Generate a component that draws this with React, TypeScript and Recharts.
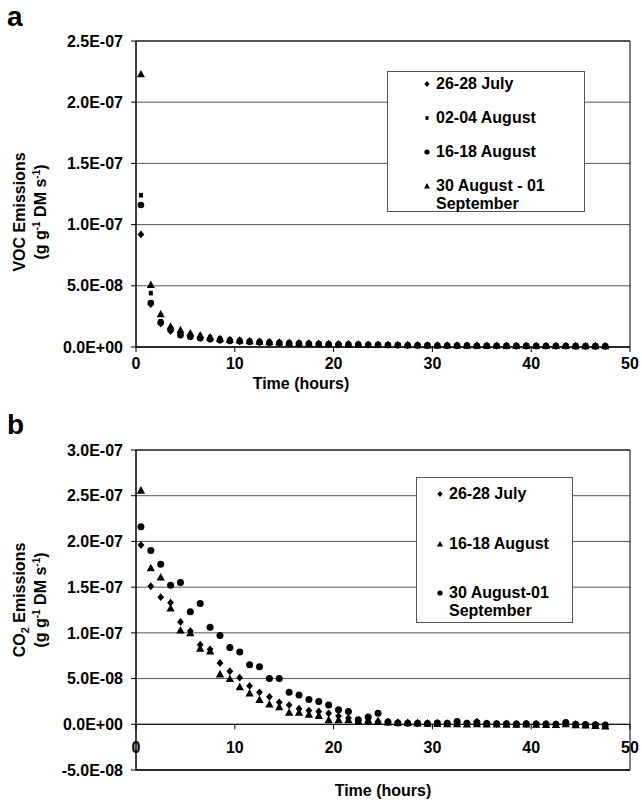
import React from 'react';
import {
  ScatterChart,
  Scatter,
  XAxis,
  YAxis,
  CartesianGrid,
  ReferenceLine,
  ReferenceArea,
  Legend,
} from 'recharts';

const FONT = '"Liberation Sans", Arial, Helvetica, sans-serif';

// sampling times (hours)
const hours = [
  0.5, 1.5, 2.5, 3.5, 4.5, 5.5, 6.5, 7.5, 8.5, 9.5, 10.5, 11.5, 12.5, 13.5, 14.5, 15.5,
  16.5, 17.5, 18.5, 19.5, 20.5, 21.5, 22.5, 23.5, 24.5, 25.5, 26.5, 27.5, 28.5, 29.5, 30.5, 31.5,
  32.5, 33.5, 34.5, 35.5, 36.5, 37.5, 38.5, 39.5, 40.5, 41.5, 42.5, 43.5, 44.5, 45.5, 46.5, 47.5,
];

// Panel a: VOC emissions (g g-1 DM s-1)
const vocJuly = [
  92e-9, 35e-9, 19e-9, 13e-9, 10e-9, 8.5e-9, 7.5e-9, 6.5e-9, 5.8e-9, 5.2e-9, 4.8e-9, 4.3e-9,
  4.0e-9, 3.7e-9, 3.5e-9, 3.2e-9, 3.0e-9, 2.8e-9, 2.6e-9, 2.5e-9, 2.3e-9, 2.2e-9, 2.0e-9, 1.9e-9,
  1.8e-9, 1.7e-9, 1.6e-9, 1.5e-9, 1.4e-9, 1.3e-9, 1.3e-9, 1.2e-9, 1.2e-9, 1.1e-9, 1.1e-9, 1.0e-9,
  1.0e-9, 1.0e-9, 0.9e-9, 0.9e-9, 0.9e-9, 0.8e-9, 0.8e-9, 0.8e-9, 0.8e-9, 0.7e-9, 0.7e-9, 0.7e-9,
];
const vocAug02 = [
  124e-9, 44e-9, 21e-9, 15e-9, 12e-9, 10e-9, 9e-9, 8e-9, 7e-9, 6.3e-9, 5.8e-9, 5.2e-9,
  4.8e-9, 4.4e-9, 4.0e-9, 3.7e-9, 3.4e-9, 3.2e-9, 3.0e-9, 2.8e-9, 2.6e-9, 2.4e-9, 2.3e-9, 2.2e-9,
  2.0e-9, 1.9e-9, 1.8e-9, 1.7e-9, 1.6e-9, 1.5e-9, 1.5e-9, 1.4e-9, 1.4e-9, 1.3e-9, 1.3e-9, 1.2e-9,
  1.2e-9, 1.1e-9, 1.1e-9, 1.1e-9, 1.0e-9, 1.0e-9, 1.0e-9, 0.9e-9, 0.9e-9, 0.9e-9, 0.9e-9, 0.8e-9,
];
const vocAug16 = [
  116e-9, 36e-9, 20e-9, 14e-9, 9.7e-9, 8.4e-9, 7.2e-9, 6.3e-9, 5.6e-9, 5.0e-9, 4.6e-9, 4.2e-9,
  3.8e-9, 3.5e-9, 3.2e-9, 3.0e-9, 2.8e-9, 2.6e-9, 2.4e-9, 2.3e-9, 2.1e-9, 2.0e-9, 1.9e-9, 1.8e-9,
  1.7e-9, 1.6e-9, 1.5e-9, 1.4e-9, 1.3e-9, 1.3e-9, 1.2e-9, 1.2e-9, 1.1e-9, 1.1e-9, 1.0e-9, 1.0e-9,
  1.0e-9, 0.9e-9, 0.9e-9, 0.9e-9, 0.8e-9, 0.8e-9, 0.8e-9, 0.8e-9, 0.7e-9, 0.7e-9, 0.7e-9, 0.7e-9,
];
const vocAug30 = [
  223e-9, 51e-9, 27e-9, 17e-9, 14e-9, 11.5e-9, 9.7e-9, 8.2e-9, 7.0e-9, 6.2e-9, 5.6e-9, 5.0e-9,
  4.6e-9, 4.2e-9, 3.9e-9, 3.6e-9, 3.3e-9, 3.1e-9, 2.9e-9, 2.7e-9, 2.5e-9, 2.4e-9, 2.2e-9, 2.1e-9,
  2.0e-9, 1.9e-9, 1.8e-9, 1.7e-9, 1.6e-9, 1.5e-9, 1.5e-9, 1.4e-9, 1.4e-9, 1.3e-9, 1.3e-9, 1.2e-9,
  1.2e-9, 1.1e-9, 1.1e-9, 1.1e-9, 1.0e-9, 1.0e-9, 1.0e-9, 1.0e-9, 0.9e-9, 0.9e-9, 0.9e-9, 0.9e-9,
];

// Panel b: CO2 emissions (g g-1 DM s-1)
const co2July = [
  196e-9, 151e-9, 139e-9, 133e-9, 112e-9, 102e-9, 87e-9, 82e-9, 67e-9, 58e-9, 51e-9, 42e-9,
  35e-9, 30e-9, 24e-9, 21e-9, 17e-9, 15e-9, 14e-9, 12e-9, 9e-9, 7e-9, 4e-9, 3e-9,
  3e-9, 2.5e-9, 2e-9, 1.8e-9, 1.5e-9, 1.2e-9, 1e-9, 1e-9, 2e-9, 1e-9, 3e-9, 1e-9,
  0.5e-9, 0.8e-9, 0.5e-9, 0.3e-9, 0.5e-9, 0.2e-9, 0, 1e-9, 0, -0.5e-9, -0.8e-9, -1e-9,
];
const co2Aug16 = [
  256e-9, 171e-9, 161e-9, 127e-9, 103e-9, 100e-9, 83e-9, 80e-9, 55e-9, 50e-9, 41e-9, 34e-9,
  27e-9, 22e-9, 19e-9, 13e-9, 13e-9, 11e-9, 9.6e-9, 5e-9, 5e-9, 5e-9, 3.6e-9, 4.4e-9,
  3.6e-9, 2.5e-9, 1.8e-9, 1.8e-9, 1.2e-9, 1.0e-9, 0.8e-9, 0.5e-9, 0.5e-9, 0.3e-9, 0.4e-9, 0.2e-9,
  0.2e-9, 0, 0, 0.3e-9, 0, -0.2e-9, -0.3e-9, 0.5e-9, -0.5e-9, -0.8e-9, -1.5e-9, -2e-9,
];
const co2Aug30 = [
  216e-9, 190e-9, 175e-9, 152e-9, 155e-9, 123e-9, 132e-9, 106e-9, 97e-9, 84e-9, 79e-9, 65e-9,
  63e-9, 50e-9, 50e-9, 35e-9, 32e-9, 27e-9, 25e-9, 21e-9, 16e-9, 14e-9, 5e-9, 8e-9,
  12e-9, 2.5e-9, 1.5e-9, 1.2e-9, 1.0e-9, 0.8e-9, 1.5e-9, 1.0e-9, 3e-9, 1.0e-9, 2e-9, 0.8e-9,
  0.5e-9, 0.5e-9, 0.3e-9, 0.5e-9, 0.2e-9, 0.3e-9, 0.1e-9, 2e-9, 0, -0.3e-9, -0.5e-9, -0.8e-9,
];

const vocNames = ['26-28 July', '02-04 August', '16-18 August', '30 August - 01 September'];
const co2Names = ['26-28 July', '16-18 August', '30 August-01 September'];

const xTicks = [0, 10, 20, 30, 40, 50];
const vocYTicks = [0, 5e-8, 1e-7, 1.5e-7, 2e-7, 2.5e-7];
const co2YTicks = [-5e-8, 0, 5e-8, 1e-7, 1.5e-7, 2e-7, 2.5e-7, 3e-7];

type Kind = 'diamond' | 'square' | 'circle' | 'triangle';

const toPoints = (vals: number[]) => hours.map((t, i) => ({ t, v: vals[i] }));

function fmtSci(v: number): string {
  if (Math.abs(v) < 1e-20) return '0.0E+00';
  const [m, e] = v.toExponential(1).split('e');
  const ei = parseInt(e, 10);
  const a = Math.abs(ei);
  return `${m}E${ei < 0 ? '-' : '+'}${a < 10 ? '0' + a : a}`;
}

const Mark = ({ cx, cy, kind, s }: { cx: number; cy: number; kind: Kind; s: number }) => {
  if (cx == null || cy == null || isNaN(cx) || isNaN(cy)) return null;
  if (kind === 'circle') return <circle cx={cx} cy={cy} r={s} fill="#000" />;
  if (kind === 'square')
    return <rect x={cx - s * 0.65} y={cy - s * 0.75} width={s * 1.3} height={s * 1.5} fill="#000" />;
  if (kind === 'diamond')
    return (
      <path
        d={`M${cx},${cy - s * 1.15}L${cx + s},${cy}L${cx},${cy + s * 1.15}L${cx - s},${cy}Z`}
        fill="#000"
      />
    );
  return (
    <path
      d={`M${cx},${cy - s * 1.15}L${cx + s * 1.15},${cy + s * 0.95}L${cx - s * 1.15},${cy + s * 0.95}Z`}
      fill="#000"
    />
  );
};

const shapeOf = (kind: Kind, s: number) => (p: any) => <Mark cx={p.cx} cy={p.cy} kind={kind} s={s} />;

const tickStyle = { fill: '#000', fontSize: 16, fontWeight: 700, fontFamily: FONT };

const LegendBox = ({
  names,
  kinds,
  width,
  height,
  padTop,
  stride,
  markX,
  textX,
}: {
  names: string[];
  kinds: Kind[];
  width: number;
  height: number;
  padTop: number;
  stride: number;
  markX: number;
  textX: number;
}) => (
  <div
    style={{
      boxSizing: 'border-box',
      width,
      height,
      border: '1px solid #555',
      background: '#fff',
      paddingTop: padTop,
      fontFamily: FONT,
      fontWeight: 700,
      fontSize: 16,
      lineHeight: '18px',
      color: '#000',
      textAlign: 'left',
    }}
  >
    {names.map((n, i) => (
      <div
        key={n}
        style={{
          position: 'relative',
          paddingLeft: textX,
          paddingRight: 4,
          marginBottom: i < names.length - 1 ? stride - 18 : 0,
        }}
      >
        <svg style={{ position: 'absolute', left: markX - 5, top: 4 }} width={10} height={10}>
          <Mark cx={5} cy={5} kind={kinds[i]} s={kinds[i] === 'square' ? 2.4 : 2.6} />
        </svg>
        {n}
      </div>
    ))}
  </div>
);

const YTitle = ({ first, centerY }: any) => {
  const x1 = 25;
  const x2 = 46;
  const cy = centerY;
  return (
    <g fontFamily={FONT} fontWeight={700} fontSize={16} fill="#000">
      <text x={x1} y={cy} textAnchor="middle" transform={`rotate(-90, ${x1}, ${cy})`}>
        {first}
      </text>
      <text x={x2} y={cy} textAnchor="middle" transform={`rotate(-90, ${x2}, ${cy})`}>
        (g g<tspan dy={-6} fontSize={10}>-1</tspan>
        <tspan dy={6}> DM s</tspan>
        <tspan dy={-6} fontSize={10}>-1</tspan>
        <tspan dy={6}>)</tspan>
      </text>
    </g>
  );
};

const CO2Text = () => (
  <>
    CO<tspan dy={4} fontSize={11}>2</tspan>
    <tspan dy={-4}> Emissions</tspan>
  </>
);

const XTitle = ({ cx, y }: { cx: number; y: number }) => (
  <text x={cx} y={y} textAnchor="middle" fontFamily={FONT} fontWeight={700} fontSize={16} fill="#000">
    Time (hours)
  </text>
);

// Panel b plot geometry (for placing tick labels on the zero line)
const B_TOP = 50;
const B_PLOT_H = 320;
const B_MIN = -5e-8;
const B_MAX = 3e-7;

const ZeroLineTick = (props: any) => {
  const { x, payload } = props;
  const bottom = B_TOP + B_PLOT_H;
  const zeroY = bottom - (B_PLOT_H * (0 - B_MIN)) / (B_MAX - B_MIN);
  return (
    <g>
      <line x1={x} x2={x} y1={zeroY} y2={zeroY + 5} stroke="#000" />
      <text x={x} y={zeroY + 23} dy="0.35em" textAnchor="middle" {...tickStyle}>
        {payload.value}
      </text>
    </g>
  );
};

export default function App() {
  return (
    <div
      style={{
        position: 'absolute',
        left: 0,
        top: 0,
        width: 642,
        height: 804,
        background: '#fff',
        fontFamily: FONT,
      }}
    >
      <div style={{ position: 'absolute', left: 7, top: 1, fontSize: 28, fontWeight: 700, lineHeight: '32px' }}>a</div>
      <div style={{ position: 'absolute', left: 7, top: 409, fontSize: 28, fontWeight: 700, lineHeight: '32px' }}>b</div>

      <div style={{ position: 'absolute', left: 0, top: 0 }}>
        <ScatterChart width={642} height={400} margin={{ top: 41, right: 12, bottom: 0, left: 0 }}>
          <CartesianGrid vertical={false} stroke="#555" />
          <XAxis
            type="number"
            dataKey="t"
            domain={[0, 50]}
            ticks={xTicks}
            height={53}
            tick={tickStyle}
            tickSize={5}
            tickMargin={6}
            axisLine={{ stroke: '#000' }}
            tickLine={{ stroke: '#000' }}
            label={{ content: () => <XTitle cx={301} y={389} /> }}
          />
          <YAxis
            type="number"
            dataKey="v"
            domain={[0, 2.5e-7]}
            ticks={vocYTicks}
            width={136}
            tick={tickStyle}
            tickFormatter={fmtSci}
            tickSize={5}
            tickMargin={8}
            axisLine={{ stroke: '#000' }}
            tickLine={{ stroke: '#000' }}
            label={{ content: (p: any) => <YTitle {...p} first="VOC Emissions" centerY={212} /> }}
          />
          <ReferenceArea x1={0} x2={50} y1={0} y2={2.5e-7} fill="none" stroke="#000" />
          <Scatter name={vocNames[0]} data={toPoints(vocJuly)} shape={shapeOf('diamond', 3.3)} isAnimationActive={false} />
          <Scatter name={vocNames[1]} data={toPoints(vocAug02)} shape={shapeOf('square', 3.1)} isAnimationActive={false} />
          <Scatter name={vocNames[2]} data={toPoints(vocAug16)} shape={shapeOf('circle', 3.3)} isAnimationActive={false} />
          <Scatter name={vocNames[3]} data={toPoints(vocAug30)} shape={shapeOf('triangle', 3.5)} isAnimationActive={false} />
          <Legend
            layout="horizontal"
            verticalAlign="middle"
            align="center"
            wrapperStyle={{ left: 387, top: 71, width: 198, height: 141 }}
            content={() => (
              <LegendBox
                names={vocNames}
                kinds={['diamond', 'square', 'circle', 'triangle']}
                width={198}
                height={141}
                padTop={3}
                stride={34}
                markX={39}
                textX={48}
              />
            )}
          />
        </ScatterChart>
      </div>

      <div style={{ position: 'absolute', left: 0, top: 400 }}>
        <ScatterChart width={642} height={404} margin={{ top: B_TOP, right: 12, bottom: 0, left: 0 }}>
          <CartesianGrid vertical={false} stroke="#555" />
          <XAxis
            type="number"
            dataKey="t"
            domain={[0, 50]}
            ticks={xTicks}
            height={34}
            tick={<ZeroLineTick />}
            tickSize={0}
            tickMargin={0}
            axisLine={{ stroke: '#000' }}
            tickLine={false}
            label={{ content: () => <XTitle cx={383} y={396} /> }}
          />
          <YAxis
            type="number"
            dataKey="v"
            domain={[B_MIN, B_MAX]}
            ticks={co2YTicks}
            width={136}
            tick={tickStyle}
            tickFormatter={fmtSci}
            tickSize={5}
            tickMargin={8}
            axisLine={{ stroke: '#000' }}
            tickLine={{ stroke: '#000' }}
            label={{ content: (p: any) => <YTitle {...p} first={<CO2Text />} centerY={200} /> }}
          />
          <ReferenceArea x1={0} x2={50} y1={B_MIN} y2={B_MAX} fill="none" stroke="#000" />
          <ReferenceLine y={0} stroke="#000" />
          <Scatter name={co2Names[0]} data={toPoints(co2July)} shape={shapeOf('diamond', 3.4)} isAnimationActive={false} />
          <Scatter name={co2Names[1]} data={toPoints(co2Aug16)} shape={shapeOf('triangle', 3.6)} isAnimationActive={false} />
          <Scatter name={co2Names[2]} data={toPoints(co2Aug30)} shape={shapeOf('circle', 3.5)} isAnimationActive={false} />
          <Legend
            layout="horizontal"
            verticalAlign="middle"
            align="center"
            wrapperStyle={{ left: 416, top: 77, width: 157, height: 146 }}
            content={() => (
              <LegendBox
                names={co2Names}
                kinds={['diamond', 'triangle', 'circle']}
                width={157}
                height={146}
                padTop={7}
                stride={49.5}
                markX={23}
                textX={32}
              />
            )}
          />
        </ScatterChart>
      </div>
    </div>
  );
}
